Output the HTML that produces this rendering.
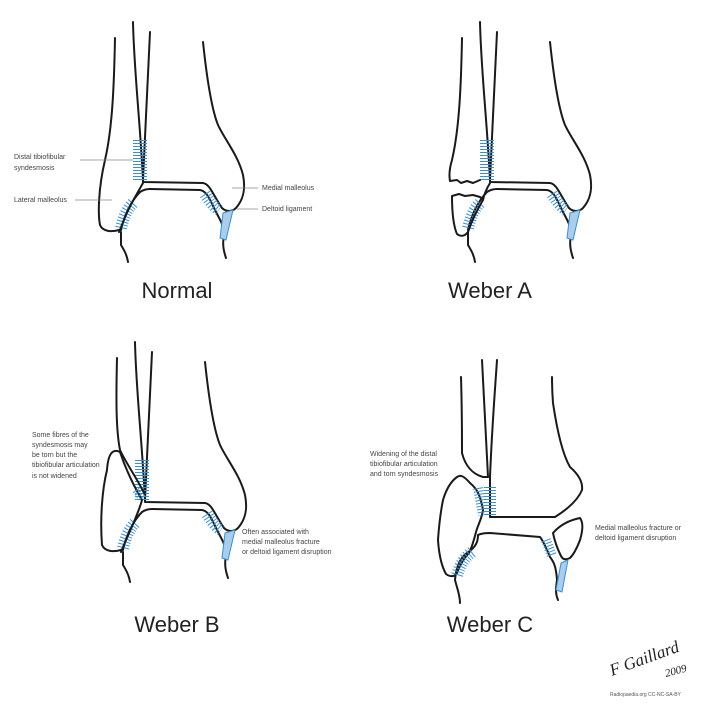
<!DOCTYPE html>
<html><head><meta charset="utf-8"><style>
html,body{margin:0;padding:0;background:#fff;}
svg{display:block;}
.b{fill:none;stroke:#1a1a1a;stroke-width:2;stroke-linecap:round;stroke-linejoin:round;}
.h{fill:none;stroke:#3a8fd0;stroke-dasharray:1 2;}
.l{stroke:#888;stroke-width:0.8;}
.s{font-family:"Liberation Sans",sans-serif;font-size:7px;fill:#444;}
.t{font-family:"Liberation Sans",sans-serif;font-size:22px;fill:#222;text-anchor:middle;}
</style></head><body>
<svg width="720" height="706" viewBox="0 0 720 706" xmlns="http://www.w3.org/2000/svg">
<defs>
<g id="common">
  <path class="b" d="M133,22 C134,70 140,120 143,180"/>
  <path class="b" d="M150,32 C148,80 145,130 143,180"/>
  <path class="b" d="M143,180 L143,182 L203,183 C210,184 213,195 222,208 C226,212 232,212 236,208 C243,200 246,190 243,175 C238,155 225,140 218,125 C212,110 207,80 203,42"/>
  <path class="b" d="M121,230 C124,215 132,200 140,192 C143,190 146,189 150,189 L200,190 C207,191 210,200 215,210 C220,220 224,225 224,235 C222,245 224,252 226,258"/>
  <path class="b" d="M121,232 L121,245 C124,250 127,255 128,262"/>
  <path class="h" stroke-width="14" d="M140,140 L140,180"/>
  <path class="h" stroke-width="12" d="M121,228 C124,215 128,208 134,202"/>
  <path class="h" stroke-width="12" d="M205,194 C209,200 213,206 219,210"/>
  <path d="M223,213 L233,210 L226,240 L220,238 Z" fill="#a9cdea" stroke="#3a8fd0" stroke-width="1"/>
</g>
</defs>

<!-- Normal -->
<g>
  <use href="#common"/>
  <path class="b" d="M115,38 C114,90 112,130 105,160 C98,190 98,215 100,225 C103,232 112,232 119,230"/>
  <path class="b" d="M143,183 C138,192 130,205 126,215 C123,222 121,228 119,232"/>
  <line class="l" x1="80" y1="160" x2="133" y2="160"/>
  <line class="l" x1="75" y1="200" x2="112" y2="200"/>
  <line class="l" x1="232" y1="188" x2="258" y2="188"/>
  <line class="l" x1="237" y1="209" x2="258" y2="209"/>
  <text class="s" x="14" y="159">Distal tibiofibular</text>
  <text class="s" x="14" y="170">syndesmosis</text>
  <text class="s" x="14" y="202">Lateral malleolus</text>
  <text class="s" x="262" y="190">Medial malleolus</text>
  <text class="s" x="262" y="211">Deltoid ligament</text>
  <text class="t" x="177" y="298">Normal</text>
</g>

<!-- Weber A -->
<g transform="translate(347,0)">
  <use href="#common"/>
  <path class="b" d="M115,38 C114,90 112,130 105,160 C102,170 102,176 103,181 L110,180 L114,183 L120,181 L126,183 L133,180"/>
  <path class="b" d="M105,196 L112,194 L118,196 L126,195 L133,197 L136,200 M105,196 C105,210 106,225 110,234 C114,237 118,236 121,232"/>
  <path class="b" d="M143,183 C140,188 137,195 136,200 C130,210 125,220 121,232"/>
  <text class="t" x="143" y="298">Weber A</text>
</g>

<!-- Weber B -->
<g transform="translate(2,320)">
  <use href="#common"/>
  <path class="b" d="M115,38 C114,80 114,110 118,130 C125,145 135,158 143,175"/>
  <path class="b" d="M118,132 C110,128 106,135 105,150 C100,170 98,200 100,225 C103,232 112,232 119,230"/>
  <path class="b" d="M118,132 C124,150 133,168 140,180 C136,195 128,210 119,232"/>
  <path class="h" stroke-width="8" d="M134,170 L140,178"/>
  <text class="t" x="175" y="312">Weber B</text>
</g>
<text class="s" x="32" y="437">Some fibres of the</text>
<text class="s" x="32" y="447">syndesmosis may</text>
<text class="s" x="32" y="457">be torn but the</text>
<text class="s" x="32" y="467">tibiofibular articulation</text>
<text class="s" x="32" y="478">is not widened</text>
<text class="s" x="242" y="534">Often associated with</text>
<text class="s" x="242" y="544">medial malleolus fracture</text>
<text class="s" x="242" y="554">or deltoid ligament disruption</text>

<!-- Weber C -->
<g>
  <path class="b" d="M461,377 C462,410 462,440 462,453 C465,465 472,474 483,477 L488,477"/>
  <path class="b" d="M482,360 C484,400 486,440 488,477"/>
  <path class="b" d="M497,360 C495,390 492,427 490,477 L490,517 L555,517 C563,512 577,502 582,490 C583,482 578,474 570,467 C563,455 557,430 553,403 C552,390 552,380 552,377"/>
  <path class="b" d="M478,535 C482,533 487,533 490,533 L540,537 C544,542 547,550 550,557 C553,561 556,565 557,580 C556,588 555,593 558,600"/>
  <path class="b" d="M478,535 C478,542 476,547 467,553 C460,558 456,567 455,580 C457,588 460,595 460,603"/>
  <path class="b" d="M457,477 C460,475 463,475 470,483 C476,488 480,493 483,510 C482,518 478,525 476,532 C474,540 472,547 469,553 C462,560 458,570 457,573 C455,577 450,577 446,574 C442,567 439,555 438,540 C439,525 441,510 443,500 C446,490 450,482 457,477 Z"/>
  <path class="b" d="M553,533 C560,525 570,520 580,518 C583,522 583,530 580,540 C577,548 573,555 570,558 C566,560 563,560 561,556 C558,550 555,543 553,533 Z"/>
  <path class="h" stroke-width="10" stroke-dasharray="1 5" d="M478,488 L483,515"/>
  <path class="h" stroke-width="12" stroke-dasharray="1 5" d="M490,487 L490,515"/>
  <path class="h" stroke-width="12" d="M457,575 C460,565 464,558 472,552"/>
  <path class="h" stroke-width="10" d="M546,540 L552,556"/>
  <path d="M561,563 L568,560 L562,592 L556,590 Z" fill="#a9cdea" stroke="#3a8fd0" stroke-width="1"/>
  <text class="s" x="370" y="456">Widening of the distal</text>
  <text class="s" x="370" y="466">tibiofibular articulation</text>
  <text class="s" x="370" y="476">and torn syndesmosis</text>
  <text class="s" x="595" y="530">Medial malleolus fracture or</text>
  <text class="s" x="595" y="540">deltoid ligament disruption</text>
  <text class="t" x="490" y="632">Weber C</text>
</g>

<!-- signature -->
<text x="612" y="676" transform="rotate(-20 612 676)" font-family="Liberation Serif,serif" font-style="italic" font-size="17" fill="#222">F Gaillard</text>
<text x="666" y="677" transform="rotate(-15 666 677)" font-family="Liberation Serif,serif" font-style="italic" font-size="11" fill="#222">2009</text>
<text x="610" y="696" font-family="Liberation Sans,sans-serif" font-size="5" fill="#555">Radiopaedia.org CC-NC-SA-BY</text>
</svg>
</body></html>
